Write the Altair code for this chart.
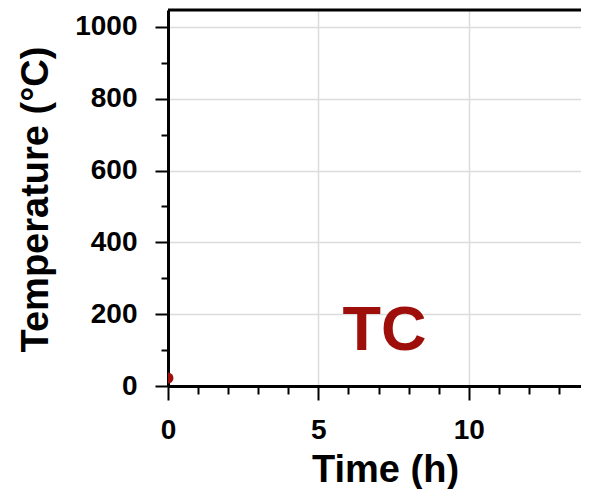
import altair as alt
import pandas as pd

# ---- data ----
time_h = [0.0]
temp_c = [22]

label_text = ["TC"]
label_time = [7.2]
label_temp = [100]

x_tick_values = list(range(0, 14))          # minor every 1 h, labelled every 5 h
y_tick_values = list(range(0, 1001, 100))   # minor every 100, labelled every 200

# ---- styling ----
W, H = 413, 376
FONT = "Liberation Sans"
RED = "#9e0f0b"
GRID = "#dcdcdc"

pts = pd.DataFrame({"time": time_h, "temp": temp_c})
lab = pd.DataFrame({"label": label_text, "time": label_time, "temp": label_temp})

xs = alt.Scale(domain=[0, 13.73], nice=False, zero=False)
ys = alt.Scale(domain=[0, 1047], nice=False)

common = dict(
    labelFont=FONT, labelFontSize=28, labelFontWeight="bold", labelColor="black",
    titleFont=FONT, titleFontSize=38, titleFontWeight="bold", titleColor="black",
    domainColor="black", domainWidth=3, tickColor="black", tickWidth=2,
    grid=True, gridWidth=1.5, titleBaseline="alphabetic", labelFlush=False,
    labelOverlap=False, format="d",
)

x_axis = alt.Axis(
    title="Time (h)", values=x_tick_values,
    labelExpr="datum.value % 5 === 0 ? datum.label : ''",
    tickSize={"condition": {"test": "datum.value % 5 === 0", "value": 14}, "value": 8},
    gridColor={"condition": {"test": "datum.value % 5 === 0", "value": GRID}, "value": "rgba(0,0,0,0)"},
    labelPadding=16, titleX=217, titleY=95, titleAngle=0, titleAlign="center",
    **common,
)
y_axis = alt.Axis(
    title="Temperature (°C)", values=y_tick_values,
    labelExpr="datum.value % 200 === 0 ? datum.label : ''",
    tickSize={"condition": {"test": "datum.value % 200 === 0", "value": 13}, "value": 7},
    gridColor={"condition": {"test": "datum.value % 200 === 0", "value": GRID}, "value": "rgba(0,0,0,0)"},
    labelPadding=18, titleX=-121, titleY=189, titleAngle=-90, titleAlign="center",
    **common,
)

X = alt.X("time:Q", scale=xs, axis=x_axis)
Y = alt.Y("temp:Q", scale=ys, axis=y_axis)

points = alt.Chart(pts).mark_circle(size=120, color=RED, opacity=1, clip=True).encode(x=X, y=Y)

text = alt.Chart(lab).mark_text(
    font=FONT, fontWeight="bold", fontSize=63, color=RED,
    align="center", baseline="alphabetic",
).encode(x=X, y=Y, text="label:N")

top_frame = alt.Chart(pts).mark_rule(color="black", strokeWidth=3).encode(
    x=alt.value(0), x2=alt.value(W), y=alt.value(0)
)

chart = alt.layer(points, text, top_frame).properties(
    width=W, height=H,
    autosize=alt.AutoSizeParams(type="none"),
    padding={"left": 160, "top": 2, "right": 0, "bottom": 103},
).configure_view(stroke=None)

chart.save("out.html", embed_options={"renderer": "svg", "actions": False})
